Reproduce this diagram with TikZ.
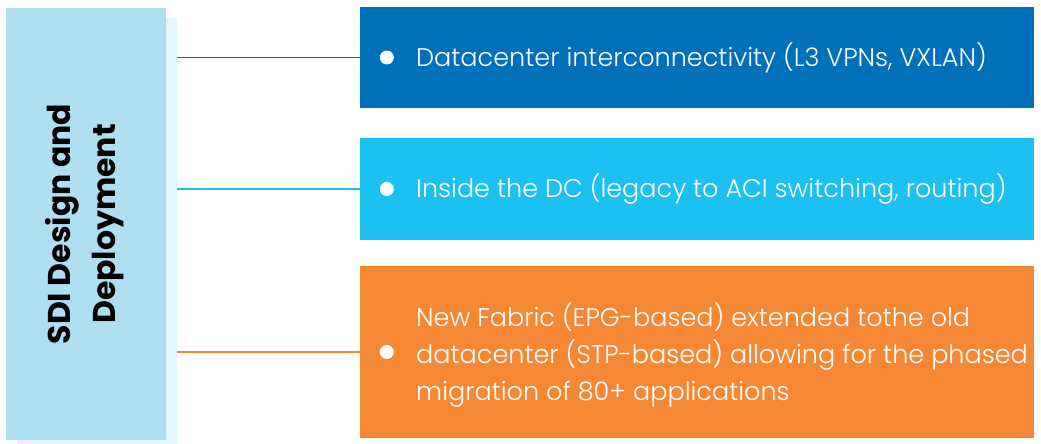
\documentclass[tikz,border=0pt]{standalone}
\usepackage{fontspec}
\setmainfont{Poppins}
\newfontfamily\lightfont{Poppins Light}
\usetikzlibrary{positioning}

\definecolor{sdiblue}{HTML}{ADDFF0}
\definecolor{sdishade}{HTML}{E3F4FA}
\definecolor{dcblue}{HTML}{0070BA}
\definecolor{dccyan}{HTML}{1DC1F1}
\definecolor{dcorange}{HTML}{F58834}

\begin{document}
\begin{tikzpicture}[x=1pt, y=-1pt,
    panel/.style={rectangle, inner sep=0pt, minimum width=674pt},
    dot/.style={circle, fill=white, inner sep=0pt, minimum size=14pt},
    item/.style={text=white, align=left, anchor=west, inner sep=0pt,
        font=\lightfont\fontsize{25.5}{37}\selectfont},
    link/.style={line width=1.2pt}]
    \useasboundingbox (0,0) rectangle (1041,444);

    % left column
    \fill[sdishade] (17,18) rectangle (177,444);
    \coordinate (shade) at (177,18);
    \node[fill=sdiblue, minimum width=160pt, minimum height=432pt, inner sep=0pt]
        (sdi) at (86,224) {};
    \node[rotate=90, align=center, font=\bfseries\fontsize{31.5}{45}\selectfont]
        (sdilabel) at ([xshift=-1pt]sdi) {SDI Design and\\Deployment};

    % right column
    \node[panel, fill=dcblue, minimum height=101pt] (wan) at (697,57.5) {};
    \node[panel, fill=dccyan, minimum height=102pt] (lan) at (697,189) {};
    \node[panel, fill=dcorange, minimum height=172pt] (mig) at (697,352) {};

    \node[dot] (wandot) at ([xshift=27pt]wan.west) {};
    \node[item, right=22pt of wandot] (wantext)
        {Datacenter interconnectivity (L3 VPNs, VXLAN)};
    \node[dot] (landot) at ([xshift=27pt]lan.west) {};
    \node[item, right=22pt of landot] (lantext)
        {Inside the DC (legacy to ACI switching, routing)};
    \node[dot] (migdot) at ([xshift=27pt]mig.west) {};
    \node[item, right=22pt of migdot, yshift=-3pt] (migtext)
        {New Fabric (EPG-based) extended tothe old\\datacenter (STP-based) allowing for the phased\\migration of 80+ applications};

    \draw[link, dcblue] (shade |- wan.west) -- (wan.west);
    \draw[link, dccyan] (shade |- lan.west) -- (lan.west);
    \draw[link, dcorange] (shade |- mig.west) -- (mig.west);
\end{tikzpicture}
\end{document}
